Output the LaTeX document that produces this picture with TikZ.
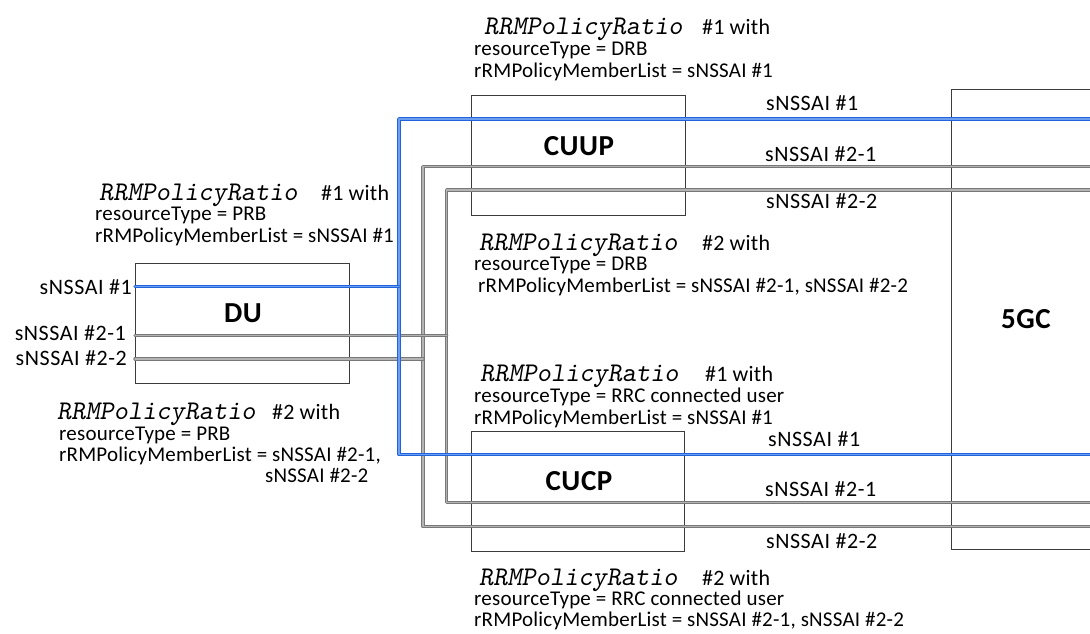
\documentclass[tikz,border=0pt]{standalone}
\usepackage{fontspec}
\setmainfont{Carlito}[LetterSpace=1]
\definecolor{bluedark}{HTML}{1F64DC}
\definecolor{bluelight}{HTML}{6E9EF0}
\definecolor{graydark}{HTML}{787878}
\definecolor{graylight}{HTML}{B4B4B4}
\definecolor{boxc}{HTML}{3C3C3C}
\begin{document}
\begin{tikzpicture}[x=1pt,y=-1pt,
  box/.style={draw=boxc, line width=0.9pt, inner sep=0, anchor=north west},
  boxlbl/.style={font=\fontsize{29}{34}\selectfont\bfseries\addfontfeature{LetterSpace=2}, inner sep=0},
  txt/.style={font=\fontsize{21}{24}\selectfont, inner sep=0, anchor=base west},
  withs/.style={font=\fontsize{22}{26}\selectfont, inner sep=0, anchor=base west},
  monot/.style={font=\ttfamily\slshape\fontsize{27}{30}\selectfont, inner sep=0, anchor=base west},
  lbl/.style={font=\fontsize{22}{26}\selectfont\addfontfeature{LetterSpace=2.5}, inner sep=0, anchor=base west},
  lble/.style={font=\fontsize{22}{26}\selectfont\addfontfeature{LetterSpace=2.5}, inner sep=0, anchor=base east},
  sblue/.style={draw=bluedark, double=bluelight, double distance=1.5pt, line width=1pt, line cap=round, line join=round},
  sgray/.style={draw=graydark, double=graylight, double distance=1.5pt, line width=1pt, line cap=round, line join=round}]
\useasboundingbox (0,0) rectangle (1090,633);
\clip (0,0) rectangle (1090,633);
\fill[white] (0,0) rectangle (1090,633);

% boxes
\node[box, minimum width=214pt, minimum height=120pt] (du) at (135,263) {};
\node[box, minimum width=214pt, minimum height=120pt] (cuup) at (471,95) {};
\node[box, minimum width=213pt, minimum height=120pt] (cucp) at (471,431) {};
\node[box, minimum width=200pt, minimum height=460pt] (gc) at (951,89) {};
\node[boxlbl] (dul) at (243,313) {DU};
\node[boxlbl] (cuupl) at (579,146) {CUUP};
\node[boxlbl] (cucpl) at (579,481) {CUCP};
\node[boxlbl] (gcl) at (1026,319) {5GC};

% coordinates
\coordinate (du1) at (135,286.7);
\coordinate (du2) at (135,335.5);
\coordinate (du3) at (135,358.8);
\coordinate (bj) at (399,286.7);
\coordinate (bt) at (399,119);
\coordinate (bb) at (399,454.5);
\coordinate (btR) at (1096,119);
\coordinate (bbR) at (1096,454.5);
\coordinate (gaj) at (446.7,335.5);
\coordinate (gat) at (446.7,190);
\coordinate (gab) at (446.7,502.5);
\coordinate (gatR) at (1096,190);
\coordinate (gabR) at (1096,502.5);
\coordinate (gbj) at (423,358.8);
\coordinate (gbt) at (423,166.7);
\coordinate (gbb) at (423,526.7);
\coordinate (gbtR) at (1096,166.7);
\coordinate (gbbR) at (1096,526.7);

% connectors
\draw[sgray] (gatR) -- (gat) -- (gab) -- (gabR);
\draw[sgray] (gbtR) -- (gbt) -- (gbb) -- (gbbR);
\draw[sgray] (du2) -- (gaj);
\draw[sgray] (du3) -- (gbj);
\draw[sblue] (btR) -- (bt) -- (bb) -- (bbR);
\draw[sblue] (du1) -- (bj);

% DU side labels
\node[lble] (dul1) at (132,294) {sNSSAI \#1};
\node[lble] (dul2) at (126,340) {sNSSAI \#2-1};
\node[lble] (dul3) at (127,365) {sNSSAI \#2-2};

% line labels
\node[lbl] (l1) at (766,110.7) {sNSSAI \#1};
\node[lbl] (l2) at (765,161.7) {sNSSAI \#2-1};
\node[lbl] (l3) at (766,208.3) {sNSSAI \#2-2};
\node[lbl] (l4) at (768,446) {sNSSAI \#1};
\node[lbl] (l5) at (765,496) {sNSSAI \#2-1};
\node[lbl] (l6) at (766,548.3) {sNSSAI \#2-2};

% top block (CUUP #1)
\node[monot] (a1) at (484,34) {RRMPolicyRatio};
\node[withs] (a1w) at (702,34) {\#1 with};
\node[txt] (a2) at (474,55) {resourceType = DRB};
\node[txt] (a3) at (474,77) {rRMPolicyMemberList = sNSSAI \#1};

% DU #1
\node[monot] (b1) at (99,200) {RRMPolicyRatio};
\node[withs] (b1w) at (321,200) {\#1 with};
\node[txt] (b2) at (95,220.5) {resourceType = PRB};
\node[txt] (b3) at (95,242) {rRMPolicyMemberList = sNSSAI \#1};

% DU #2
\node[monot] (c1) at (57,419) {RRMPolicyRatio};
\node[withs] (c1w) at (272,419) {\#2 with};
\node[txt] (c2) at (59,440) {resourceType = PRB};
\node[txt] (c3) at (59,461) {rRMPolicyMemberList = sNSSAI \#2-1,};
\node[txt] (c4) at (265,482) {sNSSAI \#2-2};

% CUUP #2
\node[monot] (d1) at (479,250) {RRMPolicyRatio};
\node[withs] (d1w) at (702,250) {\#2 with};
\node[txt] (d2) at (474,270.5) {resourceType = DRB};
\node[txt] (d3) at (478,292) {rRMPolicyMemberList = sNSSAI \#2-1, sNSSAI \#2-2};

% CUCP #1
\node[monot] (e1) at (480,381.7) {RRMPolicyRatio};
\node[withs] (e1w) at (705,381.7) {\#1 with};
\node[txt] (e2) at (474,402) {resourceType = RRC connected user};
\node[txt] (e3) at (474,424) {rRMPolicyMemberList = sNSSAI \#1};

% CUCP #2
\node[monot] (f1) at (479,585.7) {RRMPolicyRatio};
\node[withs] (f1w) at (702,585.7) {\#2 with};
\node[txt] (f2) at (474,605.5) {resourceType = RRC connected user};
\node[txt] (f3) at (474,626.7) {rRMPolicyMemberList = sNSSAI \#2-1, sNSSAI \#2-2};
\end{tikzpicture}
\end{document}
